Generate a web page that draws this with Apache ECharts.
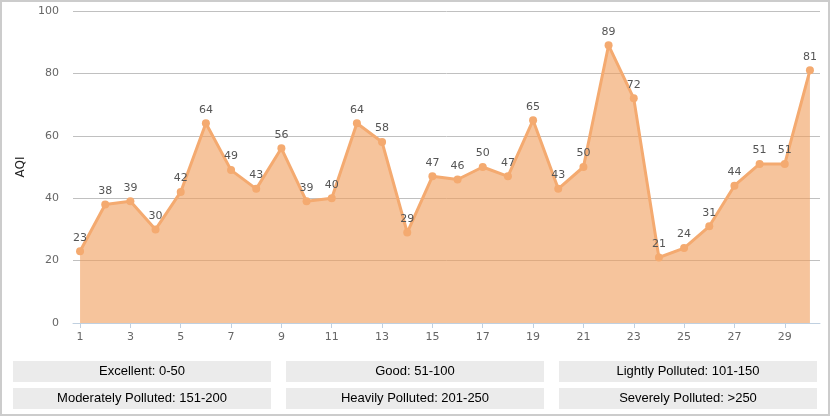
<!DOCTYPE html>
<html>
<head>
<meta charset="utf-8">
<script src="https://cdn.jsdelivr.net/npm/echarts@6/dist/echarts.min.js"></script>
<style>
html,body{margin:0;padding:0;background:#fff;}
#c{width:830px;height:416px;box-sizing:border-box;border:2px solid #cccccc;}
</style>
</head>
<body>
<div id="c"></div>
<script>
const days = [1,2,3,4,5,6,7,8,9,10,11,12,13,14,15,16,17,18,19,20,21,22,23,24,25,26,27,28,29,30];
const aqi = [23,38,39,30,42,64,49,43,56,39,40,64,58,29,47,46,50,47,65,43,50,89,72,21,24,31,44,51,51,81];
const xTickLabels = [1,3,5,7,9,11,13,15,17,19,21,23,25,27,29];
const yTicks = {min:0, max:100, interval:20};
const legendTexts = [
  ['Excellent: 0-50','Good: 51-100','Lightly Polluted: 101-150'],
  ['Moderately Polluted: 151-200','Heavily Polluted: 201-250','Severely Polluted: >250']
];

const chart = echarts.init(document.getElementById('c'), null, {renderer:'canvas'});
const graphics = [];
const boxW = 258, boxH = 21, colX = [11,284,557], rowY = [359,386];
legendTexts.forEach((row, r) => row.forEach((t, c) => {
  graphics.push({type:'group', left: colX[c], top: rowY[r], children:[
    {type:'rect', shape:{x:0,y:0,width:boxW,height:boxH}, style:{fill:'#ebebeb'}},
    {type:'text', x: boxW/2, y: boxH/2, style:{text:t, fill:'#000', font:'13px "Liberation Sans", Arial, sans-serif', align:'center', verticalAlign:'middle'}}
  ]});
}));

chart.setOption({
  animation:false,
  grid:{left:71, right:8, top:9, bottom:91, containLabel:false},
  xAxis:{
    type:'value', min:0.72, max:30.4,
    axisLine:{show:true, lineStyle:{color:'#c0d0e0', width:1}},
    axisTick:{show:true, length:5, lineStyle:{color:'#c0d0e0'}, customValues: xTickLabels},
    axisLabel:{color:'#666', fontSize:11, margin:9, fontFamily:'DejaVu Sans', customValues: xTickLabels},
    splitLine:{show:false}
  },
  yAxis:{
    type:'value', min:yTicks.min, max:yTicks.max, interval:yTicks.interval,
    name:'AQI', nameLocation:'middle', nameGap:41, nameRotate:90,
    nameTextStyle:{color:'#222', fontSize:12, fontWeight:'normal', fontFamily:'DejaVu Sans'},
    axisLine:{show:false}, axisTick:{show:false},
    axisLabel:{color:'#666', fontSize:11, margin:14, fontFamily:'DejaVu Sans'},
    splitLine:{lineStyle:{color:'#c0c0c0', width:1}}
  },
  series:[{
    type:'line',
    data: days.map((d,i)=>[d, aqi[i]]),
    symbol:'circle', symbolSize:8,
    itemStyle:{color:'#f4aa70'},
    lineStyle:{color:'#f4aa70', width:3},
    areaStyle:{color:'rgb(240,157,90)', opacity:0.6},
    label:{show:true, position:'top', distance:4, color:'#555', fontSize:11, fontFamily:'DejaVu Sans'},
    z:1
  }],
  graphic: graphics
});
</script>
</body>
</html>
